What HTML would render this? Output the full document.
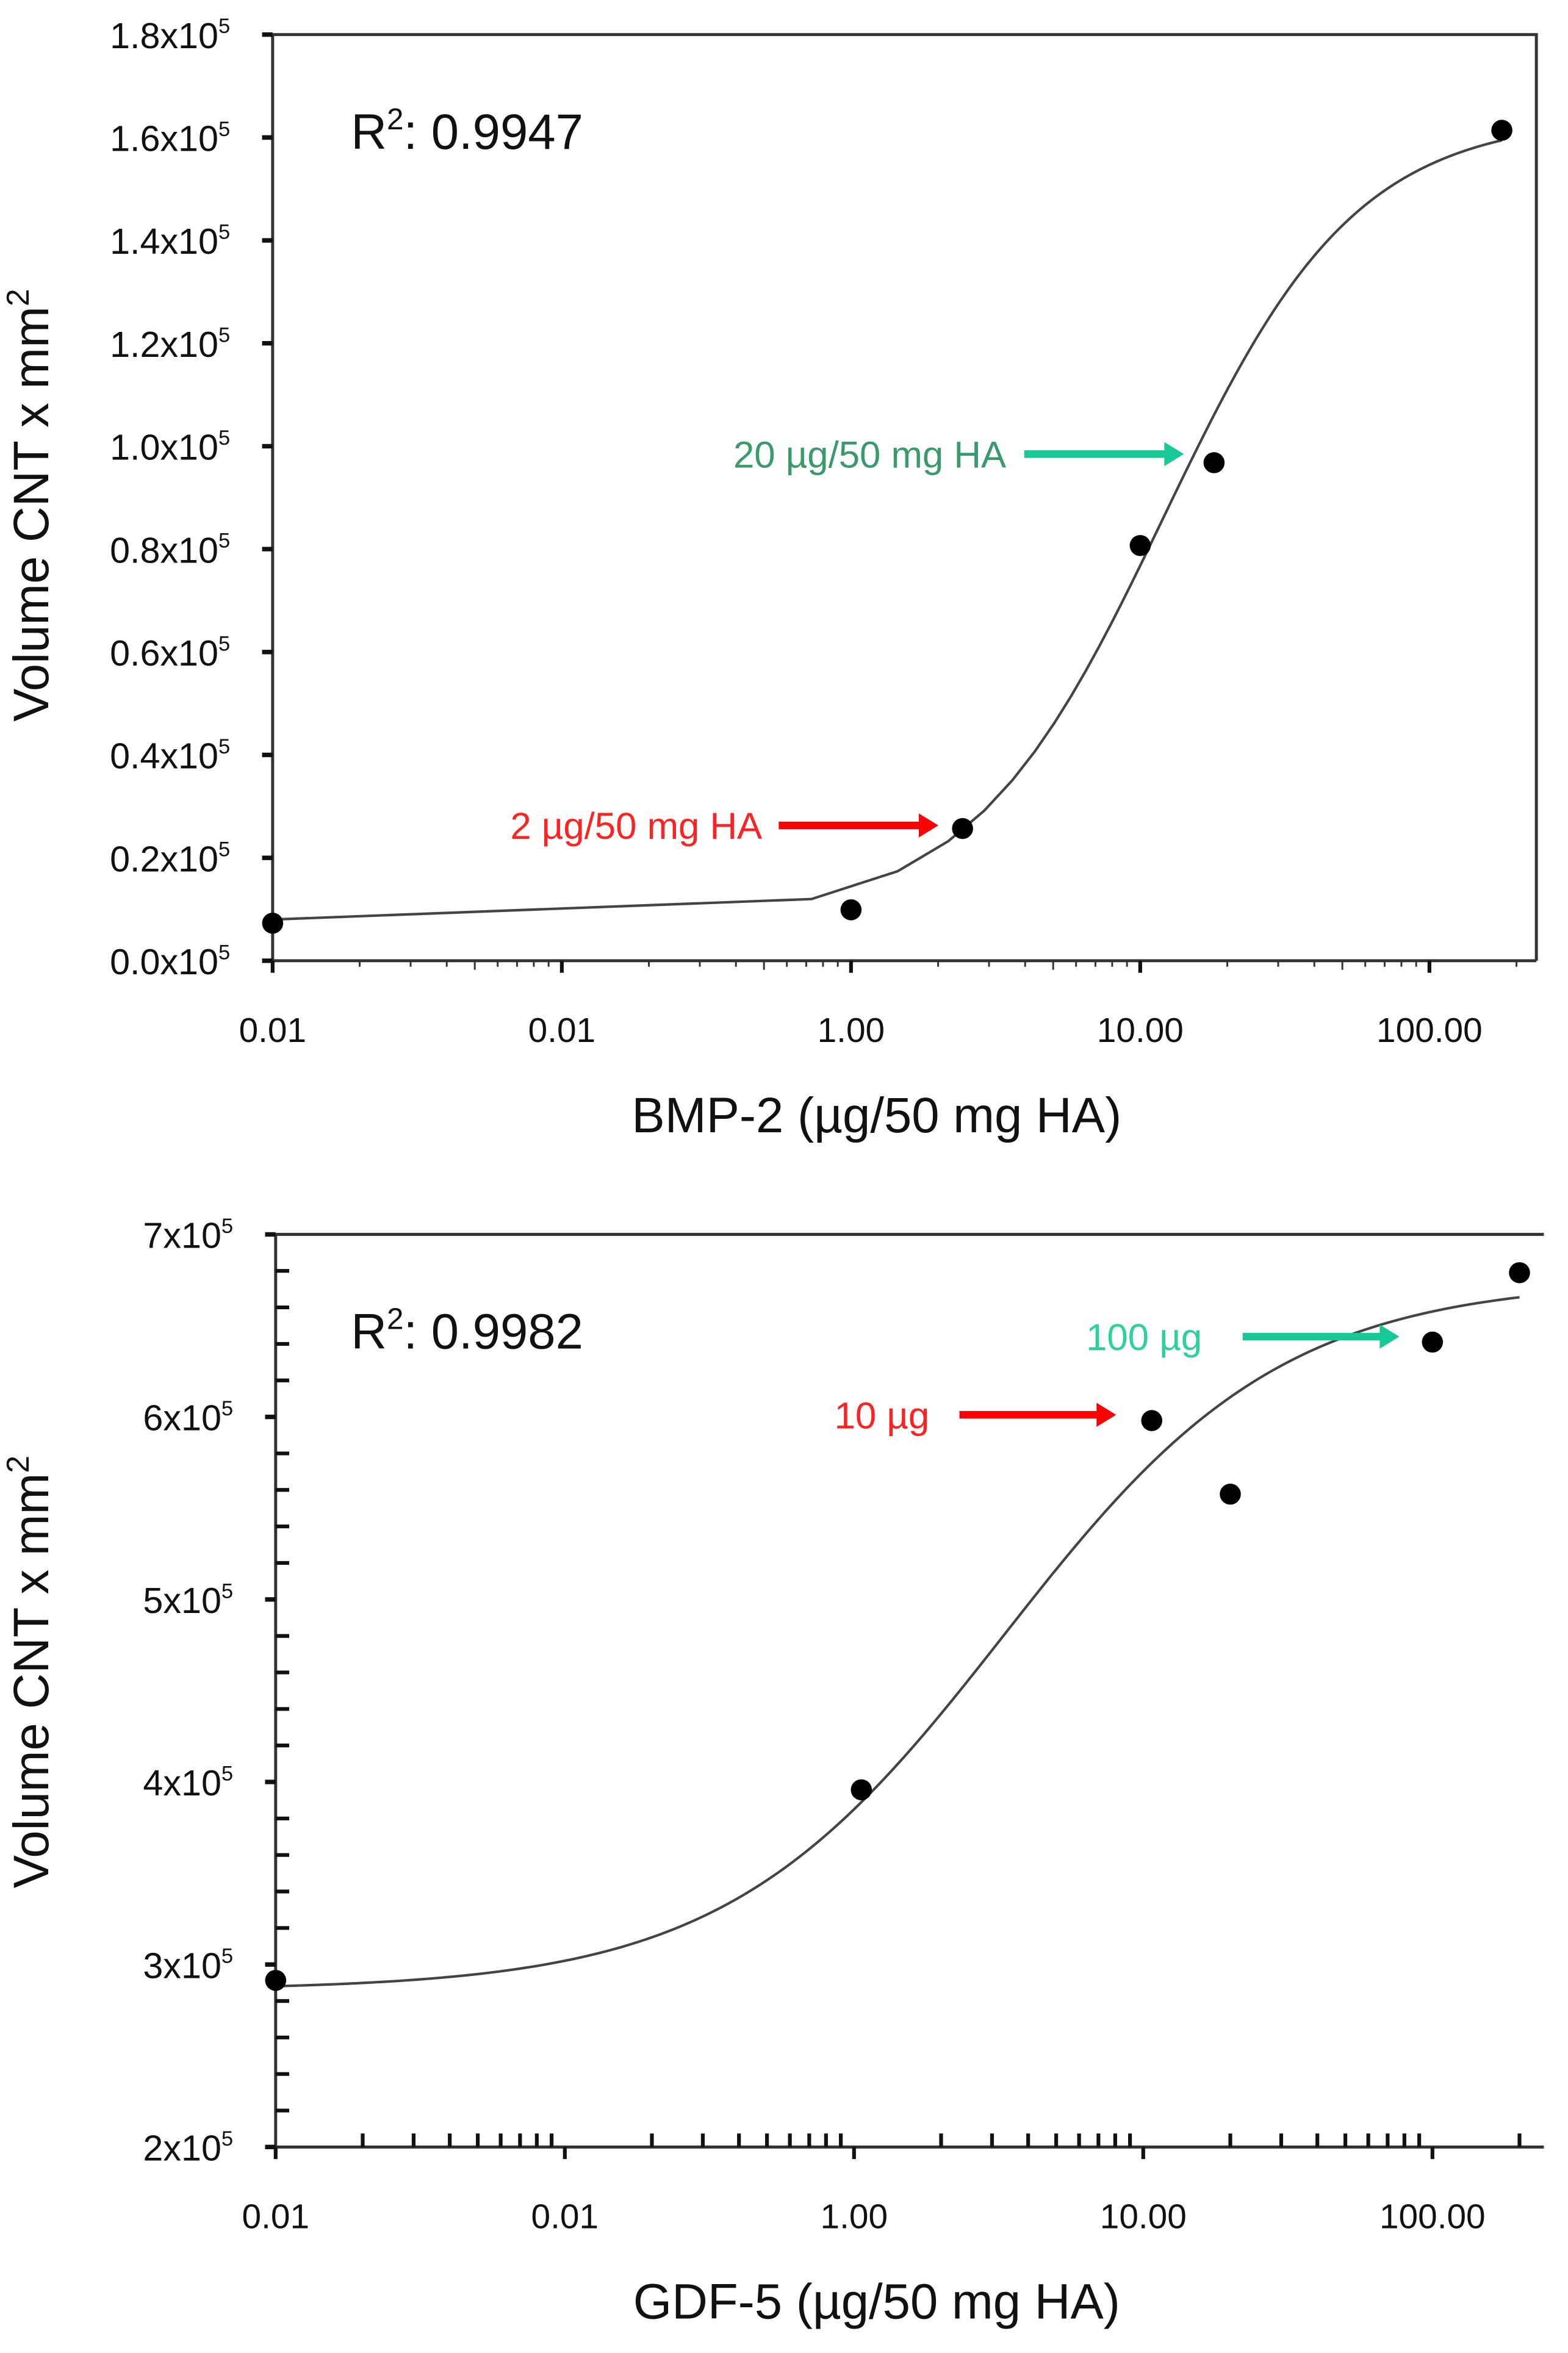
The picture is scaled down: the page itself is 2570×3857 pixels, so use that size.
<!DOCTYPE html>
<html><head><meta charset="utf-8">
<style>
html,body{margin:0;padding:0;background:#fff;}
svg{display:block;}
text{font-family:"Liberation Sans",Arial,sans-serif;}
</style></head>
<body>
<svg id="fig" width="2570" height="3857" viewBox="0 0 1041 1565" preserveAspectRatio="none" xmlns="http://www.w3.org/2000/svg">
<g id="top"></g>
<g id="bot"></g>
</svg>
<script>
// ---- BMP-2 chart data ----
const bmpX = [0.01, 1.0, 2.43, 10, 18, 178];
const bmpY = [0.073, 0.099, 0.257, 0.807, 0.968, 1.614];
const bmpFit = [0.08, 1.64, 12, 1.3]; // bottom, top, EC50, hill
const bmpYTicks = [0, 0.2, 0.4, 0.6, 0.8, 1.0, 1.2, 1.4, 1.6, 1.8];
const bmpYLabels = ["0.0x10","0.2x10","0.4x10","0.6x10","0.8x10","1.0x10","1.2x10","1.4x10","1.6x10","1.8x10"];
// ---- GDF-5 chart data ----
const gdfX = [0.01, 1.06, 10.7, 20, 100, 200];
const gdfY = [2.913, 3.957, 5.98, 5.577, 6.41, 6.79];
const gdfFit = [2.86, 6.75, 3.3, 0.9];
const gdfYTicks = [2, 3, 4, 5, 6, 7];
const gdfYLabels = ["2x10","3x10","4x10","5x10","6x10","7x10"];
// shared x axis
const xTicks = [0.01, 0.1, 1, 10, 100];
const xLabels = ["0.01","0.01","1.00","10.00","100.00"];

const NS="http://www.w3.org/2000/svg";
function mk(parent,tag,attrs,txt){const e=document.createElementNS(NS,tag);for(const k in attrs)e.setAttribute(k,attrs[k]);if(txt!==undefined)e.textContent=txt;parent.appendChild(e);return e;}
function fourPL(p,x){return p[0]+(p[1]-p[0])/(1+Math.pow(p[2]/x,p[3]));}

function chart(g,o){
  const sx=x=>o.left+(Math.log10(x)+2)*o.dec;
  const sy=y=>o.bottom-(y-o.ymin)/(o.ymax-o.ymin)*(o.bottom-o.top);
  let ax=mk(g,'path',{d:`M${o.left},${o.top} V${o.bottom} H${o.right}`,fill:'none',stroke:'#333','stroke-width':2});
   
  let fr=mk(g,'path',{d:o.fullBox?`M${o.left},${o.top} H${o.right} V${o.bottom}`:`M${o.left},${o.top} H${o.right}`,fill:'none',stroke:'#333','stroke-width':2});
   
  o.yTicks.forEach((v,i)=>{
    const y=sy(v);
    mk(g,'line',{x1:o.left-7,x2:o.left,y1:y,y2:y,stroke:'#111','stroke-width':3});
    const t=mk(g,'text',{x:o.left-36,y:y+9,'font-size':24,'text-anchor':'end',fill:'#111'},o.yLabels[i]);
     
    mk(g,'text',{x:o.left-36,y:y-1,'font-size':14,fill:'#111'},'5');
    if(o.yMinor && i<o.yTicks.length-1){
      const step=(o.yTicks[i+1]-v)/5;
      for(let k=1;k<5;k++){const yy=sy(v+k*step);mk(g,'line',{x1:o.left,x2:o.left+9,y1:yy,y2:yy,stroke:'#111','stroke-width':2.5});}
    }
  });
  xTicks.forEach((v,i)=>{
    const x=sx(v);
    mk(g,'line',{x1:x,x2:x,y1:o.bottom,y2:o.bottom+8,stroke:'#111','stroke-width':2.5});
    const t=mk(g,'text',{x:x,y:o.bottom+54,'font-size':23,'text-anchor':'middle',fill:'#111'},xLabels[i]);
     
    for(let k=2;k<10;k++){const xx=sx(v*k); if(xx>o.right-2)break;
      if(o.xMinorUp) mk(g,'line',{x1:xx,x2:xx,y1:o.bottom-9,y2:o.bottom,stroke:'#111','stroke-width':2.5});
      else mk(g,'line',{x1:xx,x2:xx,y1:o.bottom,y2:o.bottom+(k==5?6:4),stroke:'#333','stroke-width':1.2});}
  });
  let pts=[];
  if(o.linearSample){for(let x=xTicks[0];x<=o.xEnd;x+=0.72)pts.push([sx(x),sy(fourPL(o.fit,x))]);pts.push([sx(o.xEnd),sy(fourPL(o.fit,o.xEnd))]);}
  else{for(let k=0;k<=200;k++){const lx=-2+k*(Math.log10(o.xEnd)+2)/200;const x=Math.pow(10,lx);pts.push([sx(x),sy(fourPL(o.fit,x))]);}}
  const c=mk(g,'polyline',{points:pts.map(p=>p[0].toFixed(2)+','+p[1].toFixed(2)).join(' '),fill:'none',stroke:'#444','stroke-width':1.7});
   
  o.xs.forEach((x,i)=>{
    const d=mk(g,'circle',{cx:sx(x),cy:sy(o.ys[i]),r:7,fill:'#000'});
     
  });
  const r=mk(g,'text',{x:233,y:o.top+76,'font-size':33,fill:'#111'});
   
  r.innerHTML='R<tspan dy="-13" font-size="20">2</tspan><tspan dy="13">: '+o.r2+'</tspan>';
  const xt=mk(g,'text',{x:582,y:o.bottom+114,'font-size':33,'text-anchor':'middle',fill:'#111'},o.xTitle);
   
  const yt=mk(g,'text',{x:0,y:0,'font-size':33,'text-anchor':'middle',fill:'#111',transform:`translate(32,${o.yTitleY}) rotate(-90)`});
   
  yt.innerHTML='Volume CNT x mm<tspan dy="-13" font-size="21">2</tspan>';
  o.ann.forEach(a=>{
    const t=mk(g,'text',{x:a.tx,y:a.y+9,'font-size':25,'text-anchor':'end',fill:a.tc},a.text);
     
    const ar=mk(g,'path',{d:`M${a.x1},${a.y-2.5} H${a.x2-13} V${a.y-8} L${a.x2},${a.y} L${a.x2-13},${a.y+8} V${a.y+2.5} H${a.x1} Z`,fill:a.ac});
     
  });
}
chart(document.getElementById('top'),{left:181,right:1020,top:23,bottom:639,dec:192,ymin:0,ymax:1.8,
  yTicks:bmpYTicks,yLabels:bmpYLabels,yMinor:false,xMinorUp:false,fullBox:true,
  xs:bmpX,ys:bmpY,fit:bmpFit,xEnd:178,linearSample:true,r2:'0.9947',
  xTitle:'BMP-2 (\u00b5g/50 mg HA)',yTitleY:336,
  ann:[{text:'2 \u00b5g/50 mg HA',tx:506,x1:517,x2:623,y:549,tc:'#f22',ac:'#f00'},
       {text:'20 \u00b5g/50 mg HA',tx:668,x1:680,x2:786,y:302,tc:'#3a9a6e',ac:'#17c996'}]});
chart(document.getElementById('bot'),{left:183,right:1025,top:821,bottom:1428,dec:192,ymin:2,ymax:7,
  yTicks:gdfYTicks,yLabels:gdfYLabels,yMinor:true,xMinorUp:true,fullBox:false,
  xs:gdfX,ys:gdfY,fit:gdfFit,xEnd:200,linearSample:false,r2:'0.9982',
  xTitle:'GDF-5 (\u00b5g/50 mg HA)',yTitleY:1112,
  ann:[{text:'10 \u00b5g',tx:617,x1:637,x2:741,y:941,tc:'#f22',ac:'#f00'},
       {text:'100 \u00b5g',tx:798,x1:825,x2:929,y:889,tc:'#2cd19c',ac:'#17c996'}]});
</script>
</body></html>
